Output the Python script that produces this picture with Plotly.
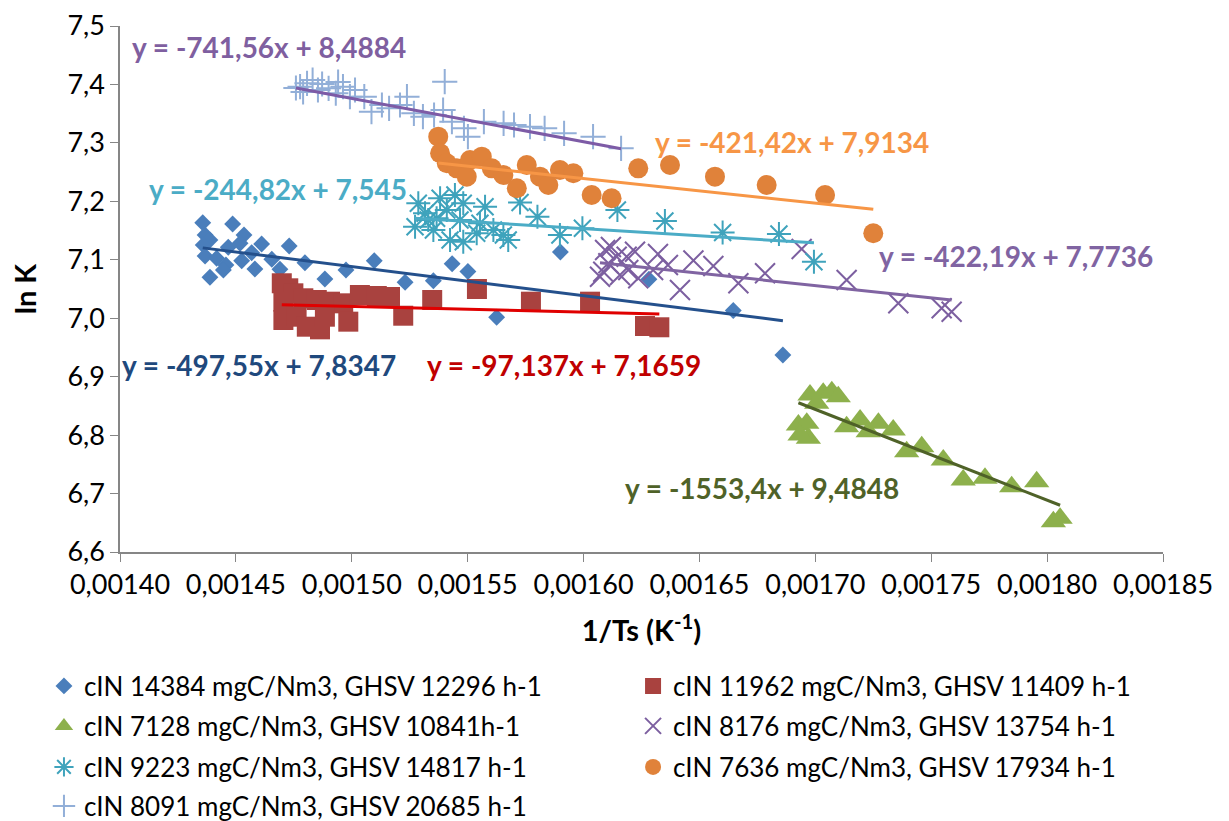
import plotly.graph_objects as go

# ---- series data: x = 1/Ts (K^-1), y = ln K ----
names = [
    "cIN 14384 mgC/Nm3, GHSV 12296 h-1",
    "cIN 11962 mgC/Nm3, GHSV 11409 h-1",
    "cIN 7128 mgC/Nm3, GHSV 10841h-1",
    "cIN 8176 mgC/Nm3, GHSV 13754 h-1",
    "cIN 9223 mgC/Nm3, GHSV 14817 h-1",
    "cIN 7636 mgC/Nm3, GHSV 17934 h-1",
    "cIN 8091 mgC/Nm3, GHSV 20685 h-1",
]

x1 = [0.0014357, 0.0014486, 0.0014367, 0.0014388, 0.0014535, 0.0014359, 0.0014467, 0.0014518,
      0.0014611, 0.0014730, 0.0014367, 0.0014417, 0.0014568, 0.0014525, 0.0014655, 0.0014457,
      0.0014446, 0.0014582, 0.0014388, 0.0014690, 0.0014798, 0.0014884, 0.0014975, 0.0015097,
      0.0015230, 0.0015352, 0.0015433, 0.0015501, 0.0015625, 0.0015900, 0.0016282, 0.0016646,
      0.0016860]
y1 = [7.1634, 7.1612, 7.1424, 7.1338, 7.1424, 7.1253, 7.1214, 7.1282,
      7.1270, 7.1236, 7.1065, 7.1025, 7.1121, 7.0984, 7.1008, 7.0911,
      7.0825, 7.0842, 7.0700, 7.0837, 7.0950, 7.0671, 7.0825, 7.0984,
      7.0615, 7.0642, 7.0931, 7.0800, 7.0016, 7.1133, 7.0666, 7.0132,
      6.9371]

x2 = [0.0014698, 0.0014726, 0.0014748, 0.0014705, 0.0014791, 0.0014849, 0.0014906, 0.0014963,
      0.0015035, 0.0015108, 0.0015165, 0.0014705, 0.0014762, 0.0014806, 0.0014863, 0.0014884,
      0.0014985, 0.0015222, 0.0015347, 0.0015540, 0.0015773, 0.0016028, 0.0016265, 0.0016327]
y2 = [7.0598, 7.0512, 7.0426, 7.0283, 7.0341, 7.0312, 7.0283, 7.0255,
      7.0397, 7.0380, 7.0363, 6.9970, 7.0026, 6.9855, 6.9810, 7.0026,
      6.9941, 7.0043, 7.0312, 7.0500, 7.0283, 7.0283, 6.9867, 6.9845]

x3 = [0.0016977, 0.0017034, 0.0017071, 0.0017099, 0.0017006, 0.0016927, 0.0016963, 0.0016970,
      0.0016934, 0.0017135, 0.0017193, 0.0017228, 0.0017272, 0.0017336, 0.0017394, 0.0017459,
      0.0017552, 0.0017638, 0.0017732, 0.0017847, 0.0017955, 0.0018027, 0.0018056]
y3 = [6.8686, 6.8716, 6.8743, 6.8657, 6.8544, 6.8173, 6.8202, 6.7945,
      6.8002, 6.8144, 6.8259, 6.8059, 6.8202, 6.8088, 6.7716, 6.7802,
      6.7574, 6.7232, 6.7261, 6.7117, 6.7203, 6.6519, 6.6577]

x4 = [0.0016071, 0.0016085, 0.0016093, 0.0016107, 0.0016118, 0.0016143, 0.0016157, 0.0016186,
      0.0016193, 0.0016222, 0.0016236, 0.0016300, 0.0016321, 0.0016364, 0.0016416, 0.0016474,
      0.0016560, 0.0016668, 0.0016783, 0.0016941, 0.0017135, 0.0017358, 0.0017545, 0.0017588]
y4 = [7.0711, 7.0796, 7.1167, 7.0940, 7.1219, 7.1053, 7.0740, 7.1053,
      7.0825, 7.1138, 7.0683, 7.0825, 7.1099, 7.0911, 7.0483, 7.0988,
      7.0894, 7.0598, 7.0769, 7.1185, 7.0654, 7.0255, 7.0170, 7.0112]

x5 = [0.0015273, 0.0015287, 0.0015316, 0.0015330, 0.0015352, 0.0015366, 0.0015381, 0.0015410,
      0.0015424, 0.0015445, 0.0015467, 0.0015481, 0.0015481, 0.0015539, 0.0015553, 0.0015575,
      0.0015611, 0.0015654, 0.0015675, 0.0015726, 0.0015801, 0.0015898, 0.0015995, 0.0016146,
      0.0016351, 0.0016600, 0.0016843, 0.0016994]
y5 = [7.1566, 7.1966, 7.1795, 7.1681, 7.1510, 7.1710, 7.2052, 7.1852,
      7.1338, 7.2108, 7.1681, 7.1966, 7.1309, 7.1453, 7.1624, 7.1908,
      7.1510, 7.1424, 7.1338, 7.1980, 7.1737, 7.1424, 7.1539, 7.1852,
      7.1664, 7.1467, 7.1441, 7.0967]

x6 = [0.0015373, 0.0015381, 0.0015410, 0.0015453, 0.0015510, 0.0015561, 0.0015496, 0.0015604,
      0.0015654, 0.0015712, 0.0015755, 0.0015812, 0.0015848, 0.0015898, 0.0015956, 0.0016035,
      0.0016121, 0.0016236, 0.0016373, 0.0016567, 0.0016790, 0.0017042, 0.0017250]
y6 = [7.3106, 7.2822, 7.2651, 7.2565, 7.2707, 7.2764, 7.2422, 7.2565,
      7.2451, 7.2223, 7.2622, 7.2422, 7.2280, 7.2536, 7.2480, 7.2108,
      7.2052, 7.2565, 7.2622, 7.2422, 7.2280, 7.2108, 7.1453]

x7 = [0.0014759, 0.0014777, 0.0014790, 0.0014807, 0.0014831, 0.0014854, 0.0014872, 0.0014900,
      0.0014931, 0.0014941, 0.0014962, 0.0014992, 0.0015014, 0.0015054, 0.0015085, 0.0015130,
      0.0015161, 0.0015208, 0.0015238, 0.0015268, 0.0015307, 0.0015355, 0.0015394, 0.0015401,
      0.0015432, 0.0015484, 0.0015501, 0.0015570, 0.0015655, 0.0015700, 0.0015769, 0.0015832,
      0.0015916, 0.0016041, 0.0016162]
y7 = [7.3939, 7.3961, 7.3871, 7.4020, 7.4076, 7.3905, 7.4008, 7.3934,
      7.3849, 7.4042, 7.3961, 7.3790, 7.3905, 7.3790, 7.3534, 7.3648,
      7.3592, 7.3648, 7.3790, 7.3506, 7.3448, 7.3477, 7.3563, 7.4047,
      7.3363, 7.3250, 7.3106, 7.3363, 7.3335, 7.3306, 7.3277, 7.3250,
      7.3164, 7.3106, 7.2907]

# linear trendline coefficients (y = slope * x + intercept)
slopes = [-497.55, -97.137, -1553.4, -422.19, -244.82, -421.42, -741.56]
intercepts = [7.8347, 7.1659, 9.4848, 7.7736, 7.545, 7.9134, 8.4884]
equations = [
    "y = -497,55x + 7,8347",
    "y = -97,137x + 7,1659",
    "y = -1553,4x + 9,4848",
    "y = -422,19x + 7,7736",
    "y = -244,82x + 7,545",
    "y = -421,42x + 7,9134",
    "y = -741,56x + 8,4884",
]
# where each equation label sits (left edge x, middle y), in data units
eq_x = [0.0014000, 0.0015316, 0.0016170, 0.0017266, 0.0014116, 0.0016300, 0.0014043]
eq_y = [6.920, 6.920, 6.7095, 7.1065, 7.2211, 7.3015, 7.464]

xs = [x1, x2, x3, x4, x5, x6, x7]
ys = [y1, y2, y3, y4, y5, y6, y7]

# ---- styling ----
marker_styles = [
    dict(symbol="diamond", size=13, color="#4A7EBB"),
    dict(symbol="square", size=20, color="#A9423F"),
    dict(symbol="triangle-up", size=22, color="#8DB04C"),
    dict(symbol="x-thin-open", size=20, color="#7C5FA0", line=dict(color="#7C5FA0", width=2)),
    dict(symbol="asterisk-open", size=20, color="#3FA3BC", line=dict(color="#3FA3BC", width=2)),
    dict(symbol="circle", size=20, color="#E0823A"),
    dict(symbol="cross-thin-open", size=18, color="#92AFD8", line=dict(color="#92AFD8", width=2)),
]
trend_colors = ["#24508C", "#E00000", "#4F6228", "#8064A2", "#4BACC6", "#F79646", "#7D5BA6"]
eq_colors = ["#1F497D", "#C00000", "#4F6228", "#8064A2", "#4BACC6", "#F79646", "#7F5FA0"]

FONT = "Lato"

# legend grid below the plot: two columns, four rows (paper coordinates)
legend_cols = [-0.0729, 0.4919]
legend_rows = [-0.2548, -0.3308, -0.4087, -0.4829]

fig = go.Figure()

legend_ids = ["legend"] + [f"legend{i}" for i in range(2, 8)]

for i in range(7):
    fig.add_trace(go.Scatter(
        x=xs[i], y=ys[i], mode="markers", name=names[i],
        marker=marker_styles[i], showlegend=True, legend=legend_ids[i],
    ))

for i in range(7):
    lo, hi = min(xs[i]), max(xs[i])
    fig.add_trace(go.Scatter(
        x=[lo, hi],
        y=[slopes[i] * lo + intercepts[i], slopes[i] * hi + intercepts[i]],
        mode="lines", line=dict(color=trend_colors[i], width=3),
        showlegend=False, hoverinfo="skip",
    ))

for i in range(7):
    fig.add_annotation(
        x=eq_x[i], y=eq_y[i], text=equations[i], showarrow=False,
        xanchor="left", yanchor="middle",
        font=dict(family=FONT, size=28, color=eq_colors[i], weight="bold"),
    )

legend_layout = {}
for i, lid in enumerate(legend_ids):
    legend_layout[lid] = dict(
        x=legend_cols[i % 2], y=legend_rows[i // 2],
        xanchor="left", yanchor="middle",
        font=dict(family=FONT, size=26, color="#000000"),
        bgcolor="rgba(0,0,0,0)", itemclick=False,
    )

fig.update_layout(
    width=1229, height=821,
    margin=dict(l=120, r=66, t=26, b=269, autoexpand=False),
    paper_bgcolor="white", plot_bgcolor="white",
    separators=", ",
    font=dict(family=FONT, size=26, color="#000000"),
    xaxis=dict(
        range=[0.0014, 0.00185], dtick=0.00005, tick0=0.0014, tickformat=".5f",
        showgrid=False, zeroline=False, showline=True, linecolor="#868686", linewidth=1.5,
        ticks="outside", ticklen=8, tickcolor="#868686",
        tickfont=dict(family=FONT, size=27, color="#000000"),
        title=dict(text="1/Ts (K<sup>-1</sup>)", font=dict(family=FONT, size=29, weight="bold"), standoff=22),
    ),
    yaxis=dict(
        range=[6.6, 7.5], dtick=0.1, tick0=6.6, tickformat=".1f",
        showgrid=False, zeroline=False, showline=True, linecolor="#868686", linewidth=1.5,
        ticks="outside", ticklen=8, tickcolor="#868686",
        tickfont=dict(family=FONT, size=27, color="#000000"),
        title=dict(text="ln K", font=dict(family=FONT, size=29, weight="bold"), standoff=22),
    ),
    **legend_layout,
)

fig.write_html("out.html")
